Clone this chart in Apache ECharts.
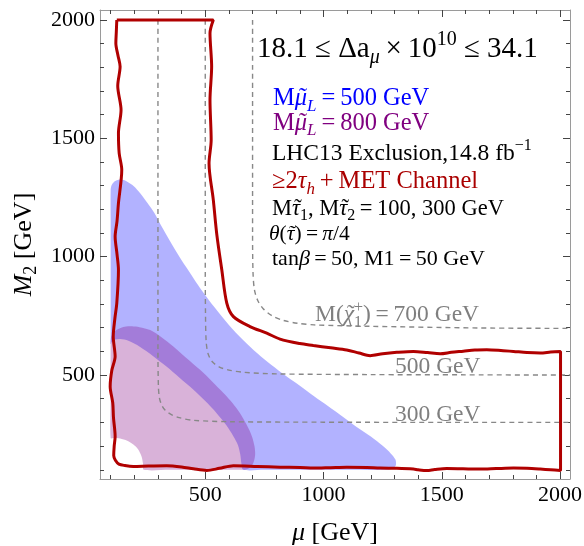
<!DOCTYPE html>
<html><head><meta charset="utf-8">
<script src="https://cdn.jsdelivr.net/npm/echarts@6/dist/echarts.min.js"></script>
<style>html,body{margin:0;padding:0;background:#fff}#c{width:584px;height:546px}</style>
</head><body><div id="c"></div>
<script>
// ---------- data ----------
const xMajorTicks = [500, 1000, 1500, 2000];
const xTickLabels = ['500', '1000', '1500', '2000'];
const xMinorTicks = [100, 200, 300, 400, 500, 600, 700, 800, 900, 1000, 1100, 1200, 1300, 1400, 1500, 1600, 1700, 1800, 1900, 2000];
const yMajorTicks = [500, 1000, 1500, 2000];
const yTickLabels = ['500', '1000', '1500', '2000'];
const yMinorTicks = [100, 200, 300, 400, 500, 600, 700, 800, 900, 1000, 1100, 1200, 1300, 1400, 1500, 1600, 1700, 1800, 1900, 2000];

// M(slepton_L)=500 GeV allowed band (blue)
const blueRegion500 = [
  [100, 650], [100, 900], [100, 1150], [100, 1283], [104, 1302], [114, 1316], [130, 1324], [150, 1325],
  [172, 1316], [198, 1298], [225, 1268], [255, 1228], [285, 1185], [320, 1120], [360, 1050], [400, 985],
  [440, 925], [480, 865], [540, 785], [600, 712], [660, 648], [720, 592], [780, 542], [840, 497],
  [900, 455], [960, 410], [1020, 368], [1080, 325], [1140, 281], [1200, 240], [1250, 201], [1285, 168],
  [1304, 143], [1306, 120], [1295, 106], [1270, 100], [1100, 100], [900, 100], [750, 100], [660, 100],
  [653, 125], [648, 165], [638, 205], [618, 243], [590, 287], [548, 339], [500, 390], [449, 439],
  [390, 490], [336, 536], [280, 580], [223, 620], [175, 645], [140, 652], [118, 650], [105, 642], [100, 630]
];
// M(slepton_L)=800 GeV allowed band (purple)
const purpleRegion800 = [
  [100, 640], [102, 660], [110, 676], [124, 690], [142, 699], [165, 705], [190, 706], [222, 702],
  [267, 690], [315, 660], [365, 621], [420, 572], [478, 522], [530, 472], [577, 424], [615, 382],
  [647, 339], [675, 290], [697, 242], [708, 200], [711, 168], [707, 140], [696, 116], [676, 102],
  [650, 100], [500, 100], [350, 100], [240, 100], [237, 125], [230, 158], [215, 188], [196, 207],
  [170, 223], [140, 232], [112, 234], [100, 234], [100, 400]
];
// chargino mass contours (dashed)
const chargino300 = [
  [300, 2000], [300, 1500], [300, 1000], [300, 600], [302, 450], [306, 405], [315, 375], [330, 352],
  [355, 334], [390, 320], [450, 309], [600, 303], [1000, 301], [1500, 300], [2042, 300]
];
const chargino500 = [
  [500, 2000], [500, 1500], [500, 1000], [501, 760], [504, 640], [512, 590], [530, 556], [560, 534],
  [600, 521], [660, 512], [800, 505], [1200, 502], [1600, 501], [2042, 500]
];
const chargino700 = [
  [700, 2000], [700, 1500], [700, 1100], [702, 930], [708, 860], [722, 815], [745, 780], [780, 752],
  [830, 731], [890, 719], [960, 712], [1200, 706], [1660, 699], [2042, 697]
];
// LHC13 exclusion contour (>=2 tau_h + MET)
const exclusionContour = [
  [126, 2000], [534, 2000], [520, 1944], [527, 1803], [520, 1662], [525, 1493], [516, 1394], [534, 1240],
  [549, 1092], [570, 944], [591, 804], [619, 747], [689, 705], [760, 677], [816, 652], [900, 633],
  [957, 625], [1030, 615], [1098, 606], [1150, 593], [1197, 582], [1250, 590], [1310, 596], [1380, 600],
  [1440, 595], [1493, 590], [1540, 596], [1591, 601], [1640, 606], [1690, 607], [1750, 604], [1803, 600],
  [1860, 595], [1916, 593], [1960, 597], [2002, 600], [2002, 97], [1960, 100], [1916, 103], [1860, 106],
  [1803, 107], [1730, 105], [1662, 103], [1590, 104], [1521, 105], [1470, 101], [1437, 97], [1400, 100],
  [1380, 103], [1310, 106], [1239, 107], [1183, 110], [1098, 111], [1030, 109], [957, 107], [901, 110],
  [816, 111], [720, 114], [619, 117], [560, 106], [506, 97], [450, 104], [400, 112], [337, 117],
  [260, 116], [196, 114], [160, 118], [135, 124], [120, 140], [113, 160], [115, 200], [119, 241],
  [112, 320], [109, 382], [98, 452], [105, 520], [119, 578], [111, 663], [118, 740], [126, 804],
  [133, 944], [127, 1010], [119, 1085], [127, 1150], [133, 1226], [147, 1367], [136, 1437], [133, 1522],
  [144, 1620], [130, 1721], [140, 1803], [131, 1850], [122, 1902], [124, 1950], [126, 2000]
];

// ---------- chart ----------
const F = "'Liberation Serif','Times New Roman',serif";
const X_MIN = 55, X_MAX = 2042, Y_MIN = 61, Y_MAX = 2042;
const chart = echarts.init(document.getElementById('c'), null, {renderer: 'canvas'});

function xAx(pos, ticks, len, withLine, withLabel) {
  return {
    type: 'value', min: X_MIN, max: X_MAX, position: pos, splitLine: {show: false},
    axisLine: {show: withLine, onZero: false, lineStyle: {color: '#9a9a9a', width: 1}},
    axisTick: {show: true, inside: true, length: len, customValues: ticks, lineStyle: {color: '#444', width: 1}},
    axisLabel: withLabel ? {show: true, customValues: xMajorTicks, margin: 5, fontFamily: F, fontSize: 22, color: '#000',
      formatter: v => xTickLabels[xMajorTicks.indexOf(v)]} : {show: false}
  };
}
function yAx(pos, ticks, len, withLine, withLabel) {
  return {
    type: 'value', min: Y_MIN, max: Y_MAX, position: pos, splitLine: {show: false},
    axisLine: {show: withLine, onZero: false, lineStyle: {color: '#9a9a9a', width: 1}},
    axisTick: {show: true, inside: true, length: len, customValues: ticks, lineStyle: {color: '#444', width: 1}},
    axisLabel: withLabel ? {show: true, customValues: yMajorTicks, margin: 5, fontFamily: F, fontSize: 22, color: '#000',
      formatter: v => yTickLabels[yMajorTicks.indexOf(v)]} : {show: false}
  };
}
const xs = [xAx('bottom', xMajorTicks, 7, true, true), xAx('bottom', xMinorTicks, 4, false, false),
            xAx('top', xMajorTicks, 7, true, false), xAx('top', xMinorTicks, 4, false, false)];
Object.assign(xs[0], {
  name: '{i|μ}{n| [GeV]}', nameLocation: 'middle', nameGap: 38,
  nameTextStyle: {fontFamily: F, fontSize: 26, color: '#000',
    rich: {i: {fontFamily: F, fontSize: 26, fontStyle: 'italic', color: '#000', lineHeight: 32},
           n: {fontFamily: F, fontSize: 26, color: '#000', lineHeight: 32}}}
});
const ys = [yAx('left', yMajorTicks, 7, true, true), yAx('left', yMinorTicks, 4, false, false),
            yAx('right', yMajorTicks, 7, true, false), yAx('right', yMinorTicks, 4, false, false)];
Object.assign(ys[0], {
  name: '{i|M}{s|2}{n| [GeV]}', nameLocation: 'middle', nameGap: 54, nameRotate: 90,
  nameTextStyle: {fontFamily: F, fontSize: 26, color: '#000',
    rich: {i: {fontFamily: F, fontSize: 26, fontStyle: 'italic', color: '#000', lineHeight: 32},
           s: {fontFamily: F, fontSize: 18, color: '#000', verticalAlign: 'bottom', lineHeight: 16},
           n: {fontFamily: F, fontSize: 26, color: '#000', lineHeight: 32}}}
});

function polySeries(points, fill) {
  return {
    type: 'custom', coordinateSystem: 'cartesian2d', xAxisIndex: 0, yAxisIndex: 0, silent: true, clip: true,
    data: points, encode: {x: 0, y: 1},
    renderItem: function (params, api) {
      if (params.dataIndex !== 0) return null;
      const pts = points.map(p => api.coord(p));
      return {type: 'polygon', shape: {points: pts, smooth: 0.3}, style: {fill: fill, stroke: null}};
    }
  };
}
function dashSeries(points) {
  return {type: 'line', data: points, xAxisIndex: 0, yAxisIndex: 0, showSymbol: false, silent: true, smooth: 0.3,
    lineStyle: {color: '#888', width: 1.4, type: [5, 4]}, z: 3};
}

// ---------- annotation text (rich text + measured tilde accents) ----------
const mctx = document.createElement('canvas').getContext('2d');
function measure(t, fs, italic) { mctx.font = (italic ? 'italic ' : '') + fs + 'px ' + F; return mctx.measureText(t).width; }
const TS = '\u2009';
function txt(x, baseline, fs, color, segs) {
  const lh = Math.round(fs * 1.3);
  const s = Math.round(fs * 0.7);
  const subH = lh - 2 * (0.53 * fs - 0.33 * s);
  const supH = lh - 0.1 * fs - 0.66 * s;
  const base = {fontFamily: F, fill: color};
  const richDef = {
    n: Object.assign({}, base, {fontSize: fs, lineHeight: lh}),
    i: Object.assign({}, base, {fontSize: fs, lineHeight: lh, fontStyle: 'italic'}),
    sub: Object.assign({}, base, {fontSize: s, lineHeight: subH, verticalAlign: 'bottom'}),
    subi: Object.assign({}, base, {fontSize: s, lineHeight: subH, verticalAlign: 'bottom', fontStyle: 'italic'}),
    sup: Object.assign({}, base, {fontSize: s, lineHeight: supH, verticalAlign: 'top'}),
    sub0: Object.assign({}, base, {fontSize: s, lineHeight: subH, verticalAlign: 'bottom', width: 0})
  };
  let str = '', cx = x;
  const out = [];
  const yMid = baseline - 0.3375 * fs;
  segs.forEach(sg => {
    const [k, t, tilde] = sg;
    str += '{' + k + '|' + t + '}';
    const small = (k !== 'n' && k !== 'i');
    const it = (k === 'i' || k === 'subi');
    const w = k === 'sub0' ? 0 : measure(t, small ? s : fs, it);
    if (tilde) {
      out.push({type: 'text', x: cx + w / 2 + (it ? 0.09 * fs : 0), y: yMid, z: 101, silent: true,
        style: {text: '\u02DC', fontFamily: F, fontSize: fs, fill: color, align: 'center', verticalAlign: 'middle'}});
    }
    cx += w;
  });
  out.unshift({type: 'text', x: x, y: yMid, z: 100, silent: true,
    style: {text: str, fontFamily: F, fontSize: fs, fill: color, align: 'left', verticalAlign: 'middle', lineHeight: lh, rich: richDef}});
  return out;
}
const gray = '#7f7f7f';
const graphics = [].concat(
  txt(257, 59, 29, '#000', [['n', '18.1 ≤ Δa'], ['subi', 'μ'], ['n', TS + '×' + TS + '10'], ['sup', '10'], ['n', ' ≤ 34.1']]),
  txt(273, 107, 24.5, '#0000ff', [['n', 'M'], ['i', 'μ', true], ['subi', 'L'], ['n', TS + '=' + TS + '500 GeV']]),
  txt(273, 131.5, 24.5, '#800080', [['n', 'M'], ['i', 'μ', true], ['subi', 'L'], ['n', TS + '=' + TS + '800 GeV']]),
  txt(272, 161.5, 23.5, '#000', [['n', 'LHC13 Exclusion,14.8 fb'], ['sup', '−1']]),
  txt(272, 190, 24.5, '#aa0000', [['n', '≥2'], ['i', 'τ'], ['subi', 'h'], ['n', TS + '+' + TS + 'MET Channel']]),
  txt(272, 216.5, 22.5, '#000', [['n', 'M'], ['i', 'τ', true], ['sub', '1'], ['n', ', M'], ['i', 'τ', true], ['sub', '2'], ['n', TS + '=' + TS + '100, 300 GeV']]),
  txt(269, 241.5, 21.5, '#000', [['i', 'θ'], ['n', '('], ['i', 'τ', true], ['n', ')' + TS + '=' + TS], ['i', 'π'], ['n', '/4']]),
  txt(272, 266.5, 22, '#000', [['n', 'tan'], ['i', 'β'], ['n', TS + '=' + TS + '50, M1' + TS + '=' + TS + '50 GeV']]),
  txt(315, 323, 23.5, gray, [['n', 'M('], ['i', 'χ', true], ['sub0', '1'], ['sup', '+'], ['n', ')' + TS + '=' + TS + '700 GeV']]),
  txt(395, 375, 23.5, gray, [['n', '500 GeV']]),
  txt(395, 422.5, 23.5, gray, [['n', '300 GeV']])
);

chart.setOption({
  animation: false,
  backgroundColor: '#fff',
  grid: {left: 100, top: 10, width: 470, height: 469, containLabel: false, outerBoundsMode: 'none', show: false},
  xAxis: xs,
  yAxis: ys,
  series: [
    polySeries(blueRegion500, 'rgba(0,0,255,0.3)'),
    polySeries(purpleRegion800, 'rgba(128,0,128,0.3)'),
    dashSeries(chargino300),
    dashSeries(chargino500),
    dashSeries(chargino700),
    {type: 'line', data: exclusionContour, xAxisIndex: 0, yAxisIndex: 0, showSymbol: false, silent: true, smooth: 0.3,
      lineStyle: {color: '#b00000', width: 3}, z: 5}
  ],
  graphic: graphics
});
</script></body></html>
